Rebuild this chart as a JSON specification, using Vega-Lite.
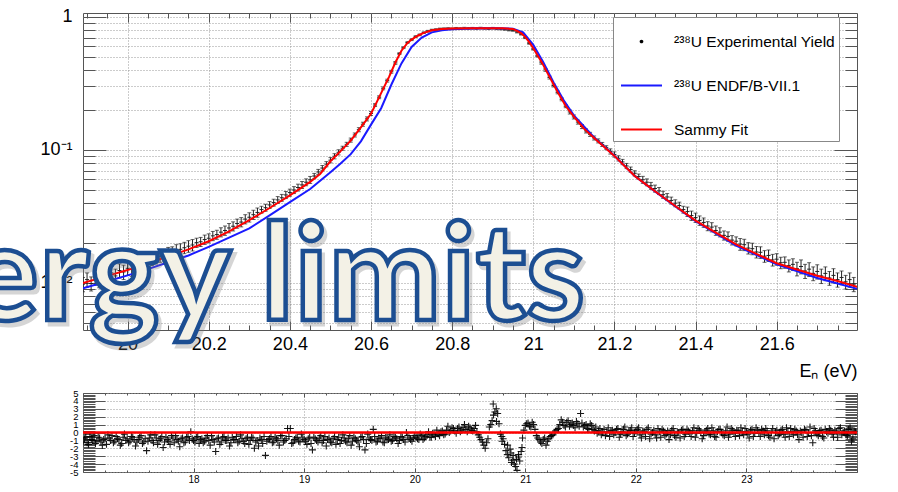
{
"$schema":"https://vega.github.io/schema/vega-lite/v6.json",
"autosize":{"type":"none"},
"padding":{"left":83,"top":13,"right":815,"bottom":479},
"background":"white",
"spacing":63,
"bounds":"flush",
"config":{
 "view":{"stroke":"#555","strokeWidth":1},
 "axis":{"labelFont":"Liberation Sans","titleFont":"Liberation Sans","labelColor":"#000","titleColor":"#000","tickColor":"#555","tickWidth":1,"domain":false,"gridColor":"#999","gridDash":[1,2],"gridWidth":1,"labelFlush":false,"labelOverlap":false,"labelBound":false}
},
"datasets":{
"exp":[
{"e":19.89,"y":0.0098,"err":0.0012},{"e":19.90,"y":0.0106,"err":0.0013},{"e":19.91,"y":0.0099,"err":0.0012},{"e":19.92,"y":0.0109,"err":0.0013},{"e":19.93,"y":0.0104,"err":0.0012},{"e":19.94,"y":0.0114,"err":0.0014},{"e":19.95,"y":0.0110,"err":0.0013},{"e":19.96,"y":0.0119,"err":0.0014},{"e":19.97,"y":0.0113,"err":0.0014},{"e":19.98,"y":0.0124,"err":0.0015},{"e":19.99,"y":0.0121,"err":0.0015},
{"e":20.00,"y":0.0129,"err":0.0015},{"e":20.01,"y":0.0127,"err":0.0015},{"e":20.02,"y":0.0136,"err":0.0014},{"e":20.03,"y":0.0132,"err":0.0013},{"e":20.04,"y":0.0143,"err":0.0014},{"e":20.05,"y":0.0146,"err":0.0015},{"e":20.06,"y":0.0150,"err":0.0015},{"e":20.07,"y":0.0154,"err":0.0015},{"e":20.08,"y":0.0159,"err":0.0016},{"e":20.09,"y":0.0162,"err":0.0016},
{"e":20.10,"y":0.0168,"err":0.0017},{"e":20.11,"y":0.0170,"err":0.0017},{"e":20.12,"y":0.0176,"err":0.0018},{"e":20.13,"y":0.0179,"err":0.0018},{"e":20.14,"y":0.0184,"err":0.0018},{"e":20.15,"y":0.0189,"err":0.0019},{"e":20.16,"y":0.0193,"err":0.0019},{"e":20.17,"y":0.0201,"err":0.0016},{"e":20.18,"y":0.0204,"err":0.0016},{"e":20.19,"y":0.0212,"err":0.0017},
{"e":20.20,"y":0.0217,"err":0.0017},{"e":20.21,"y":0.0226,"err":0.0018},{"e":20.22,"y":0.0231,"err":0.0018},{"e":20.23,"y":0.0241,"err":0.0019},{"e":20.24,"y":0.0248,"err":0.0020},{"e":20.25,"y":0.0259,"err":0.0021},{"e":20.26,"y":0.0267,"err":0.0021},{"e":20.27,"y":0.0280,"err":0.0022},{"e":20.28,"y":0.0287,"err":0.0023},{"e":20.29,"y":0.0302,"err":0.0024},
{"e":20.30,"y":0.0312,"err":0.0025},{"e":20.31,"y":0.0326,"err":0.0026},{"e":20.32,"y":0.0339,"err":0.0027},{"e":20.33,"y":0.0356,"err":0.0021},{"e":20.34,"y":0.0368,"err":0.0022},{"e":20.35,"y":0.0386,"err":0.0023},{"e":20.36,"y":0.0402,"err":0.0024},{"e":20.37,"y":0.0421,"err":0.0025},{"e":20.38,"y":0.0437,"err":0.0026},{"e":20.39,"y":0.0459,"err":0.0028},
{"e":20.40,"y":0.0478,"err":0.0029},{"e":20.41,"y":0.0500,"err":0.0030},{"e":20.42,"y":0.0522,"err":0.0031},{"e":20.43,"y":0.0546,"err":0.0033},{"e":20.44,"y":0.0572,"err":0.0034},{"e":20.45,"y":0.0596,"err":0.0036},{"e":20.46,"y":0.0637,"err":0.0029},{"e":20.47,"y":0.0683,"err":0.0031},{"e":20.48,"y":0.0731,"err":0.0033},{"e":20.49,"y":0.0782,"err":0.0035},
{"e":20.50,"y":0.0838,"err":0.0038},{"e":20.51,"y":0.0897,"err":0.0040},{"e":20.52,"y":0.0960,"err":0.0043},{"e":20.53,"y":0.1030,"err":0.0036},{"e":20.54,"y":0.1102,"err":0.0039},{"e":20.55,"y":0.1186,"err":0.0042},{"e":20.56,"y":0.1296,"err":0.0045},{"e":20.57,"y":0.1420,"err":0.0050},{"e":20.58,"y":0.1561,"err":0.0055},{"e":20.59,"y":0.1712,"err":0.0060},
{"e":20.60,"y":0.1880,"err":0.0066},{"e":20.61,"y":0.2175,"err":0.0054},{"e":20.62,"y":0.2490,"err":0.0062},{"e":20.63,"y":0.2905,"err":0.0073},{"e":20.64,"y":0.3320,"err":0.0083},{"e":20.65,"y":0.3870,"err":0.0097},{"e":20.66,"y":0.4510,"err":0.011},{"e":20.67,"y":0.5300,"err":0.008},{"e":20.68,"y":0.5870,"err":0.009},{"e":20.69,"y":0.6420,"err":0.0096},
{"e":20.70,"y":0.6740,"err":0.010},{"e":20.71,"y":0.7110,"err":0.011},{"e":20.72,"y":0.7330,"err":0.011},{"e":20.73,"y":0.7610,"err":0.011},{"e":20.74,"y":0.7800,"err":0.012},{"e":20.75,"y":0.7960,"err":0.012},{"e":20.76,"y":0.803,"err":0.012},{"e":20.77,"y":0.812,"err":0.012},{"e":20.78,"y":0.815,"err":0.012},{"e":20.79,"y":0.818,"err":0.012},
{"e":20.80,"y":0.814,"err":0.012},{"e":20.81,"y":0.821,"err":0.012},{"e":20.82,"y":0.817,"err":0.012},{"e":20.83,"y":0.823,"err":0.012},{"e":20.84,"y":0.819,"err":0.012},{"e":20.85,"y":0.822,"err":0.012},{"e":20.86,"y":0.818,"err":0.012},{"e":20.87,"y":0.824,"err":0.012},{"e":20.88,"y":0.820,"err":0.012},{"e":20.89,"y":0.816,"err":0.012},
{"e":20.90,"y":0.822,"err":0.012},{"e":20.91,"y":0.815,"err":0.012},{"e":20.92,"y":0.812,"err":0.012},{"e":20.93,"y":0.806,"err":0.012},{"e":20.94,"y":0.797,"err":0.012},{"e":20.95,"y":0.792,"err":0.012},{"e":20.96,"y":0.770,"err":0.012},{"e":20.97,"y":0.742,"err":0.011},{"e":20.98,"y":0.697,"err":0.010},{"e":20.99,"y":0.633,"err":0.0095},
{"e":21.00,"y":0.572,"err":0.0086},{"e":21.01,"y":0.508,"err":0.0076},{"e":21.02,"y":0.452,"err":0.011},{"e":21.03,"y":0.400,"err":0.010},{"e":21.04,"y":0.350,"err":0.0088},{"e":21.05,"y":0.305,"err":0.0076},{"e":21.06,"y":0.271,"err":0.0068},{"e":21.07,"y":0.240,"err":0.0060},{"e":21.08,"y":0.213,"err":0.0053},{"e":21.09,"y":0.193,"err":0.0068},
{"e":21.10,"y":0.177,"err":0.0062},{"e":21.11,"y":0.162,"err":0.0057},{"e":21.12,"y":0.150,"err":0.0053},{"e":21.13,"y":0.139,"err":0.0049},{"e":21.14,"y":0.131,"err":0.0046},{"e":21.15,"y":0.123,"err":0.0043},{"e":21.16,"y":0.117,"err":0.0041},{"e":21.17,"y":0.110,"err":0.0039},{"e":21.18,"y":0.104,"err":0.0036},{"e":21.19,"y":0.0975,"err":0.0044},
{"e":21.20,"y":0.0925,"err":0.0042},{"e":21.21,"y":0.0865,"err":0.0039},{"e":21.22,"y":0.0812,"err":0.0037},{"e":21.23,"y":0.0758,"err":0.0034},{"e":21.24,"y":0.0712,"err":0.0032},{"e":21.25,"y":0.0668,"err":0.0030},{"e":21.26,"y":0.0631,"err":0.0028},{"e":21.27,"y":0.0597,"err":0.0036},{"e":21.28,"y":0.0572,"err":0.0034},{"e":21.29,"y":0.0538,"err":0.0032},
{"e":21.30,"y":0.0513,"err":0.0031},{"e":21.31,"y":0.0492,"err":0.0030},{"e":21.32,"y":0.0461,"err":0.0028},{"e":21.33,"y":0.0443,"err":0.0027},{"e":21.34,"y":0.0417,"err":0.0025},{"e":21.35,"y":0.0398,"err":0.0024},{"e":21.36,"y":0.0382,"err":0.0023},{"e":21.37,"y":0.0356,"err":0.0021},{"e":21.38,"y":0.0344,"err":0.0028},{"e":21.39,"y":0.0321,"err":0.0026},
{"e":21.40,"y":0.0310,"err":0.0025},{"e":21.41,"y":0.0295,"err":0.0024},{"e":21.42,"y":0.0285,"err":0.0023},{"e":21.43,"y":0.0268,"err":0.0021},{"e":21.44,"y":0.0263,"err":0.0021},{"e":21.45,"y":0.0248,"err":0.0020},{"e":21.46,"y":0.0241,"err":0.0019},{"e":21.47,"y":0.0228,"err":0.0018},{"e":21.48,"y":0.0224,"err":0.0018},{"e":21.49,"y":0.0210,"err":0.0017},
{"e":21.50,"y":0.0206,"err":0.0016},{"e":21.51,"y":0.0196,"err":0.0020},{"e":21.52,"y":0.0194,"err":0.0019},{"e":21.53,"y":0.0183,"err":0.0018},{"e":21.54,"y":0.0181,"err":0.0018},{"e":21.55,"y":0.0171,"err":0.0017},{"e":21.56,"y":0.0170,"err":0.0017},{"e":21.57,"y":0.0159,"err":0.0016},{"e":21.58,"y":0.0161,"err":0.0016},{"e":21.59,"y":0.0149,"err":0.0015},
{"e":21.60,"y":0.0151,"err":0.0015},{"e":21.61,"y":0.0142,"err":0.0014},{"e":21.62,"y":0.0143,"err":0.0014},{"e":21.63,"y":0.0135,"err":0.0014},{"e":21.64,"y":0.0138,"err":0.0014},{"e":21.65,"y":0.0128,"err":0.0015},{"e":21.66,"y":0.0133,"err":0.0016},{"e":21.67,"y":0.0123,"err":0.0015},{"e":21.68,"y":0.0127,"err":0.0015},{"e":21.69,"y":0.0118,"err":0.0014},
{"e":21.70,"y":0.0122,"err":0.0015},{"e":21.71,"y":0.0113,"err":0.0014},{"e":21.72,"y":0.0118,"err":0.0014},{"e":21.73,"y":0.0109,"err":0.0013},{"e":21.74,"y":0.0114,"err":0.0014},{"e":21.75,"y":0.0106,"err":0.0013},{"e":21.76,"y":0.0110,"err":0.0013},{"e":21.77,"y":0.0102,"err":0.0012},{"e":21.78,"y":0.0106,"err":0.0013},{"e":21.79,"y":0.0098,"err":0.0012}
],
"curves":[
{"e":19.89,"y":0.0091,"k":"²³⁸U ENDF/B-VII.1"},{"e":19.95,"y":0.0103,"k":"²³⁸U ENDF/B-VII.1"},{"e":20.00,"y":0.0114,"k":"²³⁸U ENDF/B-VII.1"},{"e":20.05,"y":0.0127,"k":"²³⁸U ENDF/B-VII.1"},{"e":20.10,"y":0.0143,"k":"²³⁸U ENDF/B-VII.1"},{"e":20.15,"y":0.0161,"k":"²³⁸U ENDF/B-VII.1"},{"e":20.20,"y":0.0187,"k":"²³⁸U ENDF/B-VII.1"},{"e":20.25,"y":0.0219,"k":"²³⁸U ENDF/B-VII.1"},{"e":20.30,"y":0.0257,"k":"²³⁸U ENDF/B-VII.1"},{"e":20.35,"y":0.0322,"k":"²³⁸U ENDF/B-VII.1"},{"e":20.40,"y":0.0405,"k":"²³⁸U ENDF/B-VII.1"},{"e":20.45,"y":0.0508,"k":"²³⁸U ENDF/B-VII.1"},{"e":20.50,"y":0.068,"k":"²³⁸U ENDF/B-VII.1"},{"e":20.525,"y":0.079,"k":"²³⁸U ENDF/B-VII.1"},{"e":20.55,"y":0.093,"k":"²³⁸U ENDF/B-VII.1"},{"e":20.575,"y":0.116,"k":"²³⁸U ENDF/B-VII.1"},{"e":20.60,"y":0.155,"k":"²³⁸U ENDF/B-VII.1"},{"e":20.625,"y":0.206,"k":"²³⁸U ENDF/B-VII.1"},{"e":20.65,"y":0.309,"k":"²³⁸U ENDF/B-VII.1"},{"e":20.675,"y":0.447,"k":"²³⁸U ENDF/B-VII.1"},{"e":20.70,"y":0.595,"k":"²³⁸U ENDF/B-VII.1"},{"e":20.725,"y":0.70,"k":"²³⁸U ENDF/B-VII.1"},{"e":20.75,"y":0.765,"k":"²³⁸U ENDF/B-VII.1"},{"e":20.775,"y":0.792,"k":"²³⁸U ENDF/B-VII.1"},{"e":20.80,"y":0.808,"k":"²³⁸U ENDF/B-VII.1"},{"e":20.85,"y":0.818,"k":"²³⁸U ENDF/B-VII.1"},{"e":20.90,"y":0.820,"k":"²³⁸U ENDF/B-VII.1"},{"e":20.95,"y":0.816,"k":"²³⁸U ENDF/B-VII.1"},{"e":20.975,"y":0.765,"k":"²³⁸U ENDF/B-VII.1"},{"e":21.00,"y":0.616,"k":"²³⁸U ENDF/B-VII.1"},{"e":21.025,"y":0.455,"k":"²³⁸U ENDF/B-VII.1"},{"e":21.05,"y":0.322,"k":"²³⁸U ENDF/B-VII.1"},{"e":21.075,"y":0.236,"k":"²³⁸U ENDF/B-VII.1"},{"e":21.10,"y":0.182,"k":"²³⁸U ENDF/B-VII.1"},{"e":21.15,"y":0.124,"k":"²³⁸U ENDF/B-VII.1"},{"e":21.20,"y":0.0905,"k":"²³⁸U ENDF/B-VII.1"},{"e":21.25,"y":0.0636,"k":"²³⁸U ENDF/B-VII.1"},{"e":21.30,"y":0.0488,"k":"²³⁸U ENDF/B-VII.1"},{"e":21.40,"y":0.0291,"k":"²³⁸U ENDF/B-VII.1"},{"e":21.50,"y":0.0191,"k":"²³⁸U ENDF/B-VII.1"},{"e":21.60,"y":0.0138,"k":"²³⁸U ENDF/B-VII.1"},{"e":21.70,"y":0.0109,"k":"²³⁸U ENDF/B-VII.1"},{"e":21.80,"y":0.0090,"k":"²³⁸U ENDF/B-VII.1"},
{"e":19.89,"y":0.0100,"k":"Sammy Fit"},{"e":19.95,"y":0.0113,"k":"Sammy Fit"},{"e":20.00,"y":0.0125,"k":"Sammy Fit"},{"e":20.05,"y":0.0141,"k":"Sammy Fit"},{"e":20.10,"y":0.0158,"k":"Sammy Fit"},{"e":20.15,"y":0.0179,"k":"Sammy Fit"},{"e":20.20,"y":0.0206,"k":"Sammy Fit"},{"e":20.25,"y":0.0244,"k":"Sammy Fit"},{"e":20.30,"y":0.0297,"k":"Sammy Fit"},{"e":20.35,"y":0.0366,"k":"Sammy Fit"},{"e":20.40,"y":0.0456,"k":"Sammy Fit"},{"e":20.45,"y":0.0575,"k":"Sammy Fit"},{"e":20.475,"y":0.0663,"k":"Sammy Fit"},{"e":20.50,"y":0.0822,"k":"Sammy Fit"},{"e":20.525,"y":0.098,"k":"Sammy Fit"},{"e":20.55,"y":0.1175,"k":"Sammy Fit"},{"e":20.575,"y":0.148,"k":"Sammy Fit"},{"e":20.60,"y":0.187,"k":"Sammy Fit"},{"e":20.615,"y":0.232,"k":"Sammy Fit"},{"e":20.63,"y":0.288,"k":"Sammy Fit"},{"e":20.645,"y":0.357,"k":"Sammy Fit"},{"e":20.66,"y":0.454,"k":"Sammy Fit"},{"e":20.675,"y":0.557,"k":"Sammy Fit"},{"e":20.69,"y":0.638,"k":"Sammy Fit"},{"e":20.70,"y":0.676,"k":"Sammy Fit"},{"e":20.715,"y":0.722,"k":"Sammy Fit"},{"e":20.73,"y":0.759,"k":"Sammy Fit"},{"e":20.75,"y":0.794,"k":"Sammy Fit"},{"e":20.775,"y":0.812,"k":"Sammy Fit"},{"e":20.80,"y":0.818,"k":"Sammy Fit"},{"e":20.85,"y":0.822,"k":"Sammy Fit"},{"e":20.90,"y":0.822,"k":"Sammy Fit"},{"e":20.925,"y":0.820,"k":"Sammy Fit"},{"e":20.95,"y":0.812,"k":"Sammy Fit"},{"e":20.96,"y":0.785,"k":"Sammy Fit"},{"e":20.97,"y":0.755,"k":"Sammy Fit"},{"e":20.98,"y":0.708,"k":"Sammy Fit"},{"e":20.99,"y":0.646,"k":"Sammy Fit"},{"e":21.00,"y":0.582,"k":"Sammy Fit"},{"e":21.02,"y":0.461,"k":"Sammy Fit"},{"e":21.04,"y":0.354,"k":"Sammy Fit"},{"e":21.06,"y":0.273,"k":"Sammy Fit"},{"e":21.08,"y":0.2138,"k":"Sammy Fit"},{"e":21.10,"y":0.178,"k":"Sammy Fit"},{"e":21.125,"y":0.1445,"k":"Sammy Fit"},{"e":21.15,"y":0.123,"k":"Sammy Fit"},{"e":21.175,"y":0.1053,"k":"Sammy Fit"},{"e":21.20,"y":0.0902,"k":"Sammy Fit"},{"e":21.225,"y":0.0757,"k":"Sammy Fit"},{"e":21.25,"y":0.0637,"k":"Sammy Fit"},{"e":21.275,"y":0.0558,"k":"Sammy Fit"},{"e":21.30,"y":0.0489,"k":"Sammy Fit"},{"e":21.35,"y":0.0379,"k":"Sammy Fit"},{"e":21.40,"y":0.0294,"k":"Sammy Fit"},{"e":21.45,"y":0.0239,"k":"Sammy Fit"},{"e":21.50,"y":0.0195,"k":"Sammy Fit"},{"e":21.55,"y":0.01656,"k":"Sammy Fit"},{"e":21.60,"y":0.01406,"k":"Sammy Fit"},{"e":21.65,"y":0.01262,"k":"Sammy Fit"},{"e":21.70,"y":0.01132,"k":"Sammy Fit"},{"e":21.75,"y":0.01035,"k":"Sammy Fit"},{"e":21.80,"y":0.00933,"k":"Sammy Fit"}
],
"res":[
{"e":17.000,"r":-1.2},{"e":17.025,"r":-0.6},{"e":17.050,"r":-1.5},{"e":17.075,"r":-0.9},{"e":17.100,"r":-0.4},{"e":17.125,"r":-1.1},{"e":17.150,"r":-0.7},{"e":17.175,"r":-1.6},{"e":17.200,"r":-0.8},{"e":17.225,"r":-0.3},{"e":17.250,"r":-1.0},{"e":17.275,"r":-1.3},{"e":17.300,"r":-0.5},{"e":17.325,"r":-0.9},{"e":17.350,"r":-1.4},{"e":17.375,"r":-0.2},{"e":17.400,"r":-0.8},{"e":17.425,"r":-1.1},{"e":17.450,"r":-0.6},{"e":17.475,"r":-1.7},{"e":17.500,"r":-0.9},{"e":17.525,"r":-0.4},{"e":17.550,"r":-1.2},{"e":17.575,"r":-2.3},{"e":17.600,"r":-0.7},{"e":17.625,"r":-1.0},{"e":17.650,"r":-0.3},{"e":17.675,"r":-1.5},{"e":17.700,"r":-0.8},{"e":17.725,"r":-1.9},{"e":17.750,"r":-0.6},{"e":17.775,"r":-1.1},{"e":17.800,"r":-0.4},{"e":17.825,"r":-1.3},{"e":17.850,"r":-0.9},{"e":17.875,"r":-1.8},{"e":17.900,"r":-0.7},{"e":17.925,"r":-1.2},{"e":17.950,"r":-0.5},{"e":17.975,"r":0.1},
{"e":18.000,"r":-1.0},{"e":18.025,"r":-0.6},{"e":18.050,"r":-1.4},{"e":18.075,"r":-0.8},{"e":18.100,"r":-1.1},{"e":18.125,"r":-0.4},{"e":18.150,"r":-1.6},{"e":18.175,"r":-0.9},{"e":18.200,"r":-2.4},{"e":18.225,"r":-0.7},{"e":18.250,"r":-1.2},{"e":18.275,"r":-0.5},{"e":18.300,"r":-1.0},{"e":18.325,"r":-1.7},{"e":18.350,"r":-0.6},{"e":18.375,"r":-0.9},{"e":18.400,"r":-1.3},{"e":18.425,"r":-0.3},{"e":18.450,"r":-1.1},{"e":18.475,"r":-0.8},{"e":18.500,"r":-1.5},{"e":18.525,"r":-0.6},{"e":18.550,"r":-2.0},{"e":18.575,"r":-1.0},{"e":18.600,"r":-0.7},{"e":18.625,"r":-1.4},{"e":18.650,"r":-2.9},{"e":18.675,"r":-0.9},{"e":18.700,"r":-0.5},{"e":18.725,"r":-1.2},{"e":18.750,"r":-0.8},{"e":18.775,"r":-1.6},{"e":18.800,"r":-0.4},{"e":18.825,"r":-1.0},{"e":18.850,"r":0.5},{"e":18.875,"r":0.5},{"e":18.900,"r":-1.3},{"e":18.925,"r":-0.7},{"e":18.950,"r":-1.1},{"e":18.975,"r":-0.2},
{"e":19.000,"r":-0.9},{"e":19.025,"r":-1.5},{"e":19.050,"r":-0.6},{"e":19.075,"r":-2.2},{"e":19.100,"r":-0.8},{"e":19.125,"r":-1.2},{"e":19.150,"r":-0.4},{"e":19.175,"r":-1.0},{"e":19.200,"r":-1.7},{"e":19.225,"r":-0.7},{"e":19.250,"r":-1.3},{"e":19.275,"r":-0.5},{"e":19.300,"r":-0.9},{"e":19.325,"r":-1.4},{"e":19.350,"r":-0.3},{"e":19.375,"r":-1.1},{"e":19.400,"r":-0.8},{"e":19.425,"r":-1.6},{"e":19.450,"r":-0.6},{"e":19.475,"r":-1.0},{"e":19.500,"r":-1.8},{"e":19.525,"r":-0.5},{"e":19.550,"r":-2.2},{"e":19.575,"r":-0.2},{"e":19.600,"r":-0.9},{"e":19.625,"r":0.4},{"e":19.650,"r":-1.2},{"e":19.675,"r":-0.7},{"e":19.700,"r":-0.4},{"e":19.725,"r":-1.3},{"e":19.750,"r":-0.8},{"e":19.775,"r":-0.3},{"e":19.800,"r":-1.0},{"e":19.825,"r":-0.6},{"e":19.850,"r":-1.4},{"e":19.875,"r":-0.5},{"e":19.900,"r":-0.9},{"e":19.925,"r":0.0},{"e":19.950,"r":-0.7},{"e":19.975,"r":-1.1},
{"e":20.000,"r":-0.4},{"e":20.025,"r":-0.8},{"e":20.050,"r":-0.2},{"e":20.075,"r":-0.9},{"e":20.100,"r":-0.5},{"e":20.125,"r":0.1},{"e":20.150,"r":-0.6},{"e":20.175,"r":-0.3},{"e":20.200,"r":0.3},{"e":20.225,"r":-0.4},{"e":20.250,"r":0.2},{"e":20.275,"r":-0.2},{"e":20.300,"r":0.8},{"e":20.325,"r":0.2},{"e":20.350,"r":0.5},{"e":20.375,"r":-0.1},{"e":20.400,"r":0.7},{"e":20.425,"r":0.3},{"e":20.450,"r":1.0},{"e":20.475,"r":0.1},{"e":20.500,"r":0.6},{"e":20.525,"r":0.2},{"e":20.550,"r":0.9},{"e":20.575,"r":-0.3},{"e":20.600,"r":-0.9},{"e":20.625,"r":-1.6},{"e":20.650,"r":-1.3},{"e":20.675,"r":0.7},{"e":20.700,"r":1.5},{"e":20.710,"r":3.6},{"e":20.725,"r":2.6},{"e":20.740,"r":1.4},{"e":20.750,"r":2.4},{"e":20.775,"r":-0.2},{"e":20.790,"r":-1.1},{"e":20.800,"r":-0.8},{"e":20.825,"r":-2.3},{"e":20.840,"r":-1.6},{"e":20.850,"r":-3.2},{"e":20.870,"r":-2.6},{"e":20.875,"r":-3.8},{"e":20.890,"r":-2.9},{"e":20.900,"r":-4.0},{"e":20.920,"r":-3.4},{"e":20.925,"r":-4.8},{"e":20.940,"r":-2.8},{"e":20.950,"r":-3.6},{"e":20.970,"r":-1.9},{"e":20.975,"r":-0.7},
{"e":21.000,"r":0.9},{"e":21.025,"r":1.2},{"e":21.050,"r":0.7},{"e":21.075,"r":1.0},{"e":21.100,"r":-0.4},{"e":21.125,"r":-0.9},{"e":21.150,"r":-1.4},{"e":21.175,"r":-0.7},{"e":21.200,"r":-1.1},{"e":21.225,"r":-0.5},{"e":21.250,"r":-0.3},{"e":21.275,"r":0.2},{"e":21.300,"r":0.5},{"e":21.325,"r":1.6},{"e":21.350,"r":0.9},{"e":21.375,"r":1.3},{"e":21.400,"r":0.8},{"e":21.425,"r":1.2},{"e":21.450,"r":0.6},{"e":21.475,"r":1.1},{"e":21.500,"r":2.4},{"e":21.525,"r":0.7},{"e":21.550,"r":1.0},{"e":21.575,"r":0.4},{"e":21.600,"r":0.9},{"e":21.625,"r":0.2},{"e":21.650,"r":-0.1},{"e":21.675,"r":0.5},{"e":21.700,"r":0.0},{"e":21.725,"r":-0.4},{"e":21.750,"r":0.6},{"e":21.775,"r":0.2},{"e":21.800,"r":-0.3},{"e":21.825,"r":0.4},{"e":21.850,"r":-0.6},{"e":21.875,"r":0.1},{"e":21.900,"r":0.7},{"e":21.925,"r":-0.2},{"e":21.950,"r":0.3},{"e":21.975,"r":-0.5},
{"e":22.000,"r":0.2},{"e":22.025,"r":0.6},{"e":22.050,"r":-0.7},{"e":22.075,"r":0.1},{"e":22.100,"r":0.4},{"e":22.125,"r":-0.8},{"e":22.150,"r":0.0},{"e":22.175,"r":-0.3},{"e":22.200,"r":0.5},{"e":22.225,"r":-0.6},{"e":22.250,"r":0.2},{"e":22.275,"r":-0.2},{"e":22.300,"r":-0.9},{"e":22.325,"r":0.3},{"e":22.350,"r":-0.4},{"e":22.375,"r":0.1},{"e":22.400,"r":-0.7},{"e":22.425,"r":0.4},{"e":22.450,"r":-0.2},{"e":22.475,"r":0.2},{"e":22.500,"r":-0.5},{"e":22.525,"r":0.6},{"e":22.550,"r":-0.1},{"e":22.575,"r":0.3},{"e":22.600,"r":-0.8},{"e":22.625,"r":0.1},{"e":22.650,"r":0.5},{"e":22.675,"r":-0.3},{"e":22.700,"r":0.2},{"e":22.725,"r":-0.6},{"e":22.750,"r":0.4},{"e":22.775,"r":0.0},{"e":22.800,"r":-0.4},{"e":22.825,"r":0.7},{"e":22.850,"r":-0.2},{"e":22.875,"r":0.3},{"e":22.900,"r":-0.5},{"e":22.925,"r":0.2},{"e":22.950,"r":0.6},{"e":22.975,"r":-0.3},
{"e":23.000,"r":0.1},{"e":23.025,"r":-0.7},{"e":23.050,"r":0.4},{"e":23.075,"r":-0.1},{"e":23.100,"r":0.3},{"e":23.125,"r":-0.5},{"e":23.150,"r":0.2},{"e":23.175,"r":0.5},{"e":23.200,"r":-0.4},{"e":23.225,"r":0.0},{"e":23.250,"r":-0.8},{"e":23.275,"r":0.3},{"e":23.300,"r":-0.2},{"e":23.325,"r":0.4},{"e":23.350,"r":-0.6},{"e":23.375,"r":0.1},{"e":23.400,"r":0.5},{"e":23.425,"r":-0.3},{"e":23.450,"r":0.2},{"e":23.475,"r":-0.9},{"e":23.500,"r":0.0},{"e":23.525,"r":0.4},{"e":23.550,"r":-0.5},{"e":23.575,"r":0.7},{"e":23.600,"r":-1.3},{"e":23.625,"r":0.2},{"e":23.650,"r":-0.4},{"e":23.675,"r":0.3},{"e":23.700,"r":-0.7},{"e":23.725,"r":0.1},{"e":23.750,"r":0.5},{"e":23.775,"r":-0.2},{"e":23.800,"r":0.3},{"e":23.825,"r":-0.6},{"e":23.850,"r":0.6},{"e":23.875,"r":0.0},{"e":23.900,"r":-0.3},{"e":23.925,"r":0.4},{"e":23.950,"r":-1.1},{"e":23.975,"r":0.2},
{"e":17.0125,"r":-0.8},{"e":17.0375,"r":-1.3},{"e":17.0625,"r":-0.5},{"e":17.0875,"r":-1.0},{"e":17.1125,"r":-1.4},{"e":17.1375,"r":-0.6},{"e":17.1625,"r":-1.2},{"e":17.1875,"r":-0.9},{"e":17.2125,"r":-1.5},{"e":17.2375,"r":-0.7},{"e":17.2625,"r":-0.4},{"e":17.2875,"r":-1.1},{"e":17.3125,"r":-0.8},{"e":17.3375,"r":-1.6},{"e":17.3625,"r":-0.6},{"e":17.3875,"r":-1.0},{"e":17.4125,"r":-1.3},{"e":17.4375,"r":-0.5},{"e":17.4625,"r":-0.9},{"e":17.4875,"r":-1.2},{"e":17.5125,"r":-0.6},{"e":17.5375,"r":-1.4},{"e":17.5625,"r":-0.8},{"e":17.5875,"r":-1.1},{"e":17.6125,"r":-0.3},{"e":17.6375,"r":-1.3},{"e":17.6625,"r":-0.7},{"e":17.6875,"r":-1.0},{"e":17.7125,"r":-0.5},{"e":17.7375,"r":-1.2},{"e":17.7625,"r":-0.9},{"e":17.7875,"r":-1.5},{"e":17.8125,"r":-0.7},{"e":17.8375,"r":-0.4},{"e":17.8625,"r":-1.1},{"e":17.8875,"r":-0.8},{"e":17.9125,"r":-1.3},{"e":17.9375,"r":-0.6},{"e":17.9625,"r":-1.0},{"e":17.9875,"r":-0.8},
{"e":18.0125,"r":-1.2},{"e":18.0375,"r":-0.5},{"e":18.0625,"r":-0.9},{"e":18.0875,"r":-1.3},{"e":18.1125,"r":-0.7},{"e":18.1375,"r":-1.0},{"e":18.1625,"r":-0.4},{"e":18.1875,"r":-1.2},{"e":18.2125,"r":-0.8},{"e":18.2375,"r":-1.5},{"e":18.2625,"r":-0.6},{"e":18.2875,"r":-1.0},{"e":18.3125,"r":-0.7},{"e":18.3375,"r":-1.3},{"e":18.3625,"r":-0.9},{"e":18.3875,"r":-0.5},{"e":18.4125,"r":-1.1},{"e":18.4375,"r":-0.8},{"e":18.4625,"r":-1.4},{"e":18.4875,"r":-0.6},{"e":18.5125,"r":-1.0},{"e":18.5375,"r":-0.7},{"e":18.5625,"r":-1.2},{"e":18.5875,"r":-1.7},{"e":18.6125,"r":-0.9},{"e":18.6375,"r":-0.5},{"e":18.6625,"r":-1.1},{"e":18.6875,"r":-0.8},{"e":18.7125,"r":-1.3},{"e":18.7375,"r":-0.6},{"e":18.7625,"r":-1.0},{"e":18.7875,"r":-0.4},{"e":18.8125,"r":-1.2},{"e":18.8375,"r":-0.8},{"e":18.8625,"r":-0.5},{"e":18.8875,"r":-1.4},{"e":18.9125,"r":-0.9},{"e":18.9375,"r":-0.6},{"e":18.9625,"r":-1.2},{"e":18.9875,"r":-0.7},
{"e":19.0125,"r":-1.1},{"e":19.0375,"r":-0.8},{"e":19.0625,"r":-1.4},{"e":19.0875,"r":-0.6},{"e":19.1125,"r":-1.0},{"e":19.1375,"r":-0.7},{"e":19.1625,"r":-1.3},{"e":19.1875,"r":-0.5},{"e":19.2125,"r":-0.9},{"e":19.2375,"r":-1.2},{"e":19.2625,"r":-0.8},{"e":19.2875,"r":-1.5},{"e":19.3125,"r":-0.6},{"e":19.3375,"r":-1.0},{"e":19.3625,"r":-0.7},{"e":19.3875,"r":-1.3},{"e":19.4125,"r":-0.4},{"e":19.4375,"r":-1.1},{"e":19.4625,"r":-0.8},{"e":19.4875,"r":-1.2},{"e":19.5125,"r":-0.6},{"e":19.5375,"r":-0.9},{"e":19.5625,"r":-1.4},{"e":19.5875,"r":-0.7},{"e":19.6125,"r":-1.0},{"e":19.6375,"r":-0.5},{"e":19.6625,"r":-1.1},{"e":19.6875,"r":-0.8},{"e":19.7125,"r":-1.2},{"e":19.7375,"r":-0.6},{"e":19.7625,"r":-0.9},{"e":19.7875,"r":-1.1},{"e":19.8125,"r":-0.5},{"e":19.8375,"r":-0.8},{"e":19.8625,"r":-1.0},{"e":19.8875,"r":-0.6},{"e":19.9125,"r":-1.2},{"e":19.9375,"r":-0.4},{"e":19.9625,"r":-0.9},{"e":19.9875,"r":-0.7},
{"e":20.0125,"r":-0.6},{"e":20.0375,"r":-0.9},{"e":20.0625,"r":-0.4},{"e":20.0875,"r":-0.7},{"e":20.1125,"r":-0.3},{"e":20.1375,"r":-0.6},{"e":20.1625,"r":-0.1},{"e":20.1875,"r":-0.5},{"e":20.2125,"r":-0.2},{"e":20.2375,"r":0.1},{"e":20.2625,"r":-0.3},{"e":20.2875,"r":0.3},{"e":20.3125,"r":0.0},{"e":20.3375,"r":0.6},{"e":20.3625,"r":0.2},{"e":20.3875,"r":0.5},{"e":20.4125,"r":0.1},{"e":20.4375,"r":0.6},{"e":20.4625,"r":0.4},{"e":20.4875,"r":0.8},{"e":20.5125,"r":0.3},{"e":20.5375,"r":0.5},{"e":20.5625,"r":0.1},{"e":20.5875,"r":-0.6},{"e":20.6125,"r":-1.2},{"e":20.6375,"r":-2.0},{"e":20.6625,"r":-0.8},{"e":20.6875,"r":1.0},{"e":20.7125,"r":2.2},{"e":20.7375,"r":3.0},{"e":20.7625,"r":1.1},{"e":20.7875,"r":-0.5},{"e":20.8125,"r":-1.5},{"e":20.8375,"r":-2.8},{"e":20.8625,"r":-2.1},{"e":20.8875,"r":-3.5},{"e":20.9125,"r":-4.3},{"e":20.9375,"r":-3.1},{"e":20.9625,"r":-2.4},{"e":20.9875,"r":0.3},
{"e":21.0125,"r":1.1},{"e":21.0375,"r":0.8},{"e":21.0625,"r":1.3},{"e":21.0875,"r":0.4},{"e":21.1125,"r":-0.7},{"e":21.1375,"r":-1.2},{"e":21.1625,"r":-0.9},{"e":21.1875,"r":-1.6},{"e":21.2125,"r":-0.8},{"e":21.2375,"r":-0.4},{"e":21.2625,"r":0.0},{"e":21.2875,"r":0.4},{"e":21.3125,"r":1.0},{"e":21.3375,"r":1.3},{"e":21.3625,"r":0.7},{"e":21.3875,"r":1.5},{"e":21.4125,"r":1.0},{"e":21.4375,"r":0.9},{"e":21.4625,"r":1.4},{"e":21.4875,"r":0.8},{"e":21.5125,"r":1.2},{"e":21.5375,"r":0.9},{"e":21.5625,"r":0.5},{"e":21.5875,"r":1.1},{"e":21.6125,"r":0.4},{"e":21.6375,"r":0.7},{"e":21.6625,"r":0.2},{"e":21.6875,"r":-0.3},{"e":21.7125,"r":0.4},{"e":21.7375,"r":0.1},{"e":21.7625,"r":-0.5},{"e":21.7875,"r":0.3},{"e":21.8125,"r":0.0},{"e":21.8375,"r":0.5},{"e":21.8625,"r":-0.2},{"e":21.8875,"r":0.4},{"e":21.9125,"r":-0.4},{"e":21.9375,"r":0.2},{"e":21.9625,"r":0.6},{"e":21.9875,"r":-0.1},
{"e":22.0125,"r":0.4},{"e":22.0375,"r":-0.3},{"e":22.0625,"r":0.2},{"e":22.0875,"r":-0.5},{"e":22.1125,"r":0.6},{"e":22.1375,"r":-0.2},{"e":22.1625,"r":0.3},{"e":22.1875,"r":-0.7},{"e":22.2125,"r":0.1},{"e":22.2375,"r":0.4},{"e":22.2625,"r":-0.4},{"e":22.2875,"r":0.2},{"e":22.3125,"r":-0.3},{"e":22.3375,"r":0.5},{"e":22.3625,"r":-0.6},{"e":22.3875,"r":0.0},{"e":22.4125,"r":0.3},{"e":22.4375,"r":-0.5},{"e":22.4625,"r":0.4},{"e":22.4875,"r":-0.1},{"e":22.5125,"r":0.2},{"e":22.5375,"r":-0.6},{"e":22.5625,"r":0.5},{"e":22.5875,"r":0.0},{"e":22.6125,"r":-0.4},{"e":22.6375,"r":0.3},{"e":22.6625,"r":-0.2},{"e":22.6875,"r":0.6},{"e":22.7125,"r":-0.5},{"e":22.7375,"r":0.1},{"e":22.7625,"r":0.4},{"e":22.7875,"r":-0.3},{"e":22.8125,"r":0.2},{"e":22.8375,"r":-0.6},{"e":22.8625,"r":0.5},{"e":22.8875,"r":-0.1},{"e":22.9125,"r":0.3},{"e":22.9375,"r":-0.4},{"e":22.9625,"r":0.1},{"e":22.9875,"r":0.5},
{"e":23.0125,"r":-0.2},{"e":23.0375,"r":0.3},{"e":23.0625,"r":-0.5},{"e":23.0875,"r":0.6},{"e":23.1125,"r":-0.1},{"e":23.1375,"r":0.4},{"e":23.1625,"r":-0.3},{"e":23.1875,"r":0.2},{"e":23.2125,"r":-0.6},{"e":23.2375,"r":0.5},{"e":23.2625,"r":0.0},{"e":23.2875,"r":-0.4},{"e":23.3125,"r":0.3},{"e":23.3375,"r":-0.2},{"e":23.3625,"r":0.6},{"e":23.3875,"r":-0.5},{"e":23.4125,"r":0.1},{"e":23.4375,"r":0.4},{"e":23.4625,"r":-0.3},{"e":23.4875,"r":0.2},{"e":23.5125,"r":-0.6},{"e":23.5375,"r":0.3},{"e":23.5625,"r":0.0},{"e":23.5875,"r":-0.4},{"e":23.6125,"r":0.5},{"e":23.6375,"r":-0.2},{"e":23.6625,"r":0.2},{"e":23.6875,"r":-0.5},{"e":23.7125,"r":0.4},{"e":23.7375,"r":-0.1},{"e":23.7625,"r":0.3},{"e":23.7875,"r":-0.6},{"e":23.8125,"r":0.1},{"e":23.8375,"r":0.5},{"e":23.8625,"r":-0.3},{"e":23.8875,"r":0.2},{"e":23.9125,"r":-0.4},{"e":23.9375,"r":0.6},{"e":23.9625,"r":-0.8},{"e":23.9875,"r":0.1}
],
"zero":[{"e":17,"z":0},{"e":24,"z":0}],
"label":[{"e":21.128,"y":0.00527,"t":"ergy limits"}]
},
"vconcat":[
{
 "width":774,"height":317,
 "layer":[
  {
   "data":{"name":"exp"},
   "mark":{"type":"errorbar","ticks":true,"size":4,"thickness":1,"color":"#222","clip":true},
   "encoding":{
    "x":{"field":"e","type":"quantitative","scale":{"domain":[19.89,21.798],"nice":false,"zero":false},
     "axis":{"orient":"bottom","values":[19.9,19.95,20,20.05,20.1,20.15,20.2,20.25,20.3,20.35,20.4,20.45,20.5,20.55,20.6,20.65,20.7,20.75,20.8,20.85,20.9,20.95,21,21.05,21.1,21.15,21.2,21.25,21.3,21.35,21.4,21.45,21.5,21.55,21.6,21.65,21.7,21.75],
      "grid":true,"gridOpacity":{"condition":{"test":"abs(datum.value*5-round(datum.value*5))<0.001","value":1},"value":0},
      "tickSize":{"condition":{"test":"abs(datum.value*5-round(datum.value*5))<0.001","value":-9},"value":-5},
      "labelExpr":"abs(datum.value*5-round(datum.value*5))<0.001 ? '' + datum.value : ''",
      "labelFontSize":18,"labelPadding":14,
      "title":"Eₙ (eV)","titleFontSize":18,"titleFontWeight":"normal","titleAnchor":"end","titleAlign":"right","titlePadding":5}},
    "y":{"field":"y","type":"quantitative","scale":{"type":"log","domain":[0.00443,1.07],"nice":false},
     "axis":{"orient":"left","values":[0.005,0.006,0.007,0.008,0.009,0.01,0.02,0.03,0.04,0.05,0.06,0.07,0.08,0.09,0.1,0.2,0.3,0.4,0.5,0.6,0.7,0.8,0.9,1],
      "grid":true,
      "tickSize":{"condition":{"test":"abs(log(datum.value)/LN10-round(log(datum.value)/LN10))<0.001","value":-23},"value":-12},
      "labelExpr":"abs(datum.value-1)<1e-6 ? '1' : (abs(datum.value-0.1)<1e-6 ? '10⁻¹' : (abs(datum.value-0.01)<1e-6 ? '10⁻²' : ''))",
      "labelFontSize":18,"labelPadding":34,"title":null}},
    "yError":{"field":"err"}
   }
  },
  {
   "data":{"name":"exp"},
   "mark":{"type":"point","shape":"M-1,0H1","filled":false,"stroke":"#222","strokeWidth":1,"size":16,"opacity":1,"clip":true},
   "encoding":{
    "x":{"field":"e","type":"quantitative",
     "axis":{"orient":"top","values":[19.9,19.95,20,20.05,20.1,20.15,20.2,20.25,20.3,20.35,20.4,20.45,20.5,20.55,20.6,20.65,20.7,20.75,20.8,20.85,20.9,20.95,21,21.05,21.1,21.15,21.2,21.25,21.3,21.35,21.4,21.45,21.5,21.55,21.6,21.65,21.7,21.75],
      "grid":false,"labels":false,"title":null,
      "tickSize":{"condition":{"test":"abs(datum.value*5-round(datum.value*5))<0.001","value":-9},"value":-5}}},
    "y":{"field":"y","type":"quantitative",
     "axis":{"orient":"right","values":[0.005,0.006,0.007,0.008,0.009,0.01,0.02,0.03,0.04,0.05,0.06,0.07,0.08,0.09,0.1,0.2,0.3,0.4,0.5,0.6,0.7,0.8,0.9,1],
      "grid":false,"labels":false,"title":null,
      "tickSize":{"condition":{"test":"abs(log(datum.value)/LN10-round(log(datum.value)/LN10))<0.001","value":-23},"value":-12}}}
   }
  },
  {
   "data":{"name":"curves"},
   "mark":{"type":"line","strokeWidth":2,"clip":true},
   "encoding":{
    "x":{"field":"e","type":"quantitative","axis":null},
    "y":{"field":"y","type":"quantitative","axis":null},
    "color":{"field":"k","type":"nominal",
     "scale":{"domain":["²³⁸U Experimental Yield","²³⁸U ENDF/B-VII.1","Sammy Fit"],"range":["#000000","#1a1aff","#ff0000"]},
     "legend":{"title":null,"orient":"none","legendX":530,"legendY":4,"padding":3,"strokeColor":"#888","fillColor":"white",
      "labelFont":"Liberation Sans","labelFontSize":15.5,"labelColor":"#000","labelLimit":400,"symbolSize":1681,"symbolStrokeWidth":2,"symbolOffset":4,"labelOffset":11,"rowPadding":14,
      "encode":{"symbols":{"update":{
        "shape":{"signal":"datum.index === 0 ? 'circle' : 'stroke'"},
        "size":{"signal":"datum.index === 0 ? 3 : 1681"},
        "fill":{"signal":"datum.index === 0 ? '#000' : 'transparent'"}}}}}}
   }
  },
  {
   "data":{"name":"label"},
   "mark":{"type":"text","font":"Lato","fontWeight":"bold","fontSize":135,"align":"right","baseline":"alphabetic","fill":"#777","stroke":"#777","strokeWidth":5,"opacity":0.3,"dx":3,"dy":4},
   "encoding":{"x":{"field":"e","type":"quantitative","axis":null},"y":{"field":"y","type":"quantitative","axis":null},"text":{"field":"t"}}
  },
  {
   "data":{"name":"label"},
   "mark":{"type":"text","font":"Lato","fontWeight":"bold","fontSize":135,"align":"right","baseline":"alphabetic","fill":"#F3F1E6","stroke":"#1C4E92","strokeWidth":4.5},
   "encoding":{"x":{"field":"e","type":"quantitative","axis":null},"y":{"field":"y","type":"quantitative","axis":null},"text":{"field":"t"}}
  }
 ]
},
{
 "width":774,"height":79,
 "layer":[
  {
   "data":{"name":"res"},
   "mark":{"type":"point","shape":"M-1,0H1M0,-1V1","filled":false,"stroke":"#000","strokeWidth":1.1,"size":49,"opacity":0.9,"clip":true},
   "encoding":{
    "x":{"field":"e","type":"quantitative","scale":{"domain":[17,24],"nice":false,"zero":false},
     "axis":{"orient":"bottom","values":[17,17.2,17.4,17.6,17.8,18,18.2,18.4,18.6,18.8,19,19.2,19.4,19.6,19.8,20,20.2,20.4,20.6,20.8,21,21.2,21.4,21.6,21.8,22,22.2,22.4,22.6,22.8,23,23.2,23.4,23.6,23.8,24],
      "grid":true,"gridOpacity":{"condition":{"test":"abs(datum.value-round(datum.value))<0.001","value":1},"value":0},
      "tickSize":{"condition":{"test":"abs(datum.value-round(datum.value))<0.001","value":-4},"value":-2},
      "labelExpr":"abs(datum.value-round(datum.value))<0.001 && datum.value>17.5 && datum.value<23.5 ? '' + round(datum.value) : ''",
      "labelFontSize":10,"labelPadding":6,"title":null}},
    "y":{"field":"r","type":"quantitative","scale":{"domain":[-5,5],"nice":false,"zero":false},
     "axis":{"orient":"left","values":[-5,-4.8,-4.6,-4.4,-4.2,-4,-3.8,-3.6,-3.4,-3.2,-3,-2.8,-2.6,-2.4,-2.2,-2,-1.8,-1.6,-1.4,-1.2,-1,-0.8,-0.6,-0.4,-0.2,0,0.2,0.4,0.6,0.8,1,1.2,1.4,1.6,1.8,2,2.2,2.4,2.6,2.8,3,3.2,3.4,3.6,3.8,4,4.2,4.4,4.6,4.8,5],
      "grid":true,"gridOpacity":{"condition":{"test":"abs(datum.value-round(datum.value))<0.001","value":1},"value":0},
      "tickSize":{"condition":{"test":"abs(datum.value-round(datum.value))<0.001","value":-22},"value":-12},
      "labelExpr":"abs(datum.value-round(datum.value))<0.001 ? '' + round(datum.value) : ''",
      "labelFontSize":9.5,"labelPadding":27,"title":null}}
   }
  },
  {
   "data":{"name":"zero"},
   "mark":{"type":"line","color":"#ff0000","strokeWidth":2.5},
   "encoding":{
    "x":{"field":"e","type":"quantitative",
     "axis":{"orient":"top","values":[17,17.2,17.4,17.6,17.8,18,18.2,18.4,18.6,18.8,19,19.2,19.4,19.6,19.8,20,20.2,20.4,20.6,20.8,21,21.2,21.4,21.6,21.8,22,22.2,22.4,22.6,22.8,23,23.2,23.4,23.6,23.8,24],
      "grid":false,"labels":false,"title":null,
      "tickSize":{"condition":{"test":"abs(datum.value-round(datum.value))<0.001","value":-4},"value":-2}}},
    "y":{"field":"z","type":"quantitative",
     "axis":{"orient":"right","values":[-5,-4.8,-4.6,-4.4,-4.2,-4,-3.8,-3.6,-3.4,-3.2,-3,-2.8,-2.6,-2.4,-2.2,-2,-1.8,-1.6,-1.4,-1.2,-1,-0.8,-0.6,-0.4,-0.2,0,0.2,0.4,0.6,0.8,1,1.2,1.4,1.6,1.8,2,2.2,2.4,2.6,2.8,3,3.2,3.4,3.6,3.8,4,4.2,4.4,4.6,4.8,5],
      "grid":false,"labels":false,"title":null,
      "tickSize":{"condition":{"test":"abs(datum.value-round(datum.value))<0.001","value":-22},"value":-12}}}
   }
  }
 ]
}
]
}
